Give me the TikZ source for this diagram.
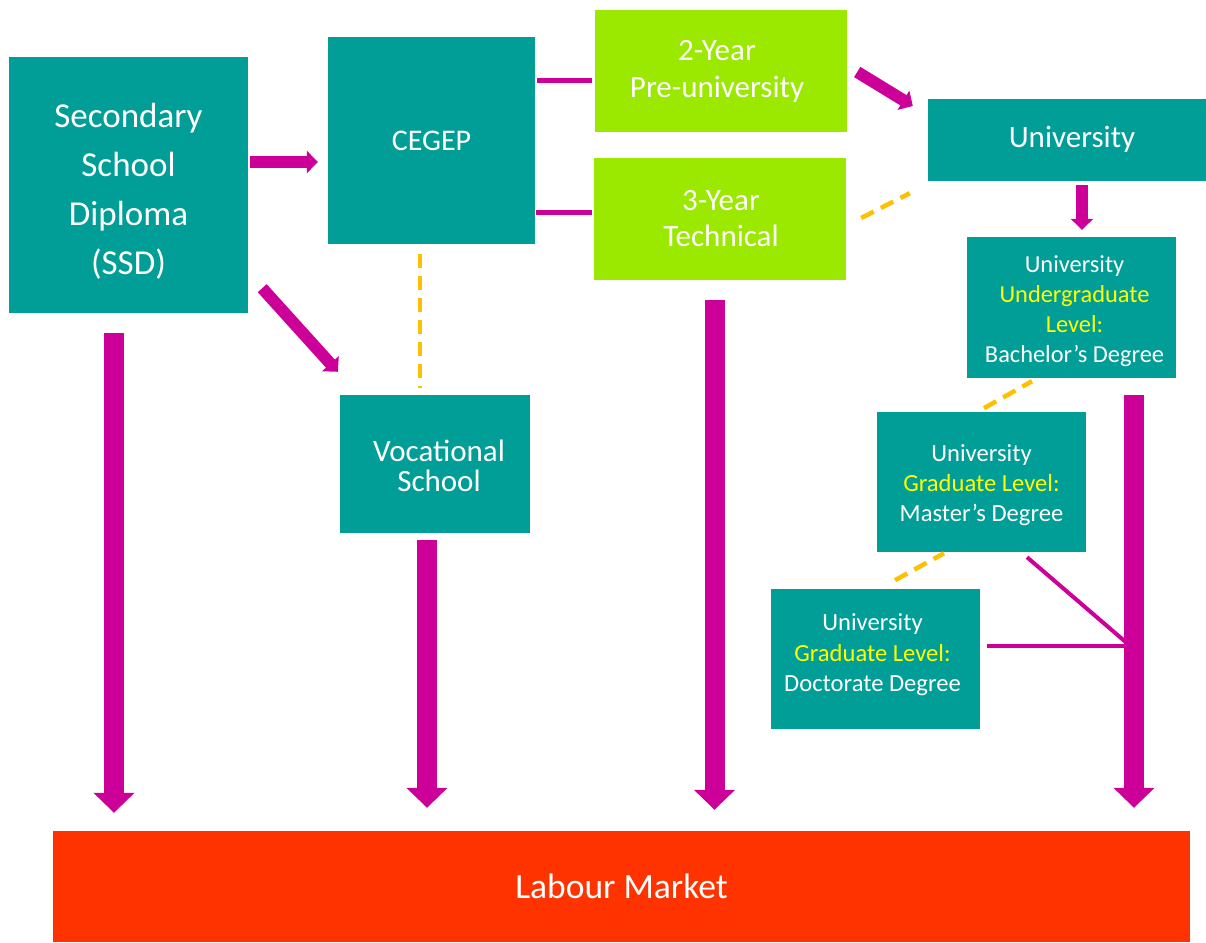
\documentclass[tikz,border=0pt]{standalone}
\usepackage{fontspec}
\setmainfont{Carlito}
\usetikzlibrary{arrows.meta}
\definecolor{teal}{RGB}{0,158,150}
\definecolor{lime}{RGB}{155,232,0}
\definecolor{labred}{RGB}{255,51,0}
\definecolor{mag}{RGB}{204,0,153}
\definecolor{orng}{RGB}{255,192,0}
\definecolor{yel}{RGB}{255,255,0}
\tikzset{
  box/.style={fill=teal, draw=none, inner sep=0pt},
  limebox/.style={fill=lime, draw=none, inner sep=0pt},
  txt/.style={inner sep=0pt, text=white, align=center},
  downarr/.style={mag, line width=20pt, -{Triangle[length=20pt 0 0, width=40pt 0 0]}},
  smallarr/.style={mag, line width=12pt, -{Triangle[length=11pt 0 0, width=22pt 0 0]}},
  link/.style={mag, line width=5pt},
  thinlink/.style={mag, line width=4pt},
  dashlink/.style={orng, line width=4.5pt, dash pattern=on 14pt off 8pt},
}
\begin{document}
\begin{tikzpicture}[x=1pt, y=-1pt]
\useasboundingbox[fill=white] (0,0) rectangle (1206,942);
% boxes
\node[box, minimum width=239pt, minimum height=256pt] (ssd) at (128.5,185) {};
\node[box, minimum width=207pt, minimum height=207pt] (cegep) at (431.5,140.5) {};
\node[limebox, minimum width=252pt, minimum height=122pt] (pre) at (721,71) {};
\node[limebox, minimum width=252pt, minimum height=122pt] (tech) at (720,219) {};
\node[box, minimum width=278pt, minimum height=82pt] (uni) at (1067,140) {};
\node[box, minimum width=209pt, minimum height=141pt] (ug) at (1071.5,307.5) {};
\node[box, minimum width=190pt, minimum height=138pt] (voc) at (435,464) {};
\node[box, minimum width=209pt, minimum height=140pt] (ms) at (981.5,482) {};
\node[box, minimum width=209pt, minimum height=140pt] (dr) at (875.5,659) {};
\node[fill=labred, inner sep=0pt, minimum width=1137pt, minimum height=111pt] (lab) at (621.5,886.5) {};
% texts
\node[txt, font=\fontsize{35}{49}\selectfont] (ssdt) at ([shift={(0,6)}]ssd.center) {Secondary\\School\\Diploma\\(SSD)};
\node[txt, font=\fontsize{30}{34}\selectfont] (cegept) at (cegep.center) {CEGEP};
\node[txt, font=\fontsize{31}{37}\selectfont] (pret) at ([shift={(-4,0)}]pre.center) {2-Year\\Pre-university};
\node[txt, font=\fontsize{31}{36}\selectfont] (techt) at ([shift={(1,0)}]tech.center) {3-Year\\Technical};
\node[txt, font=\fontsize{31}{34}\selectfont] (unit) at ([shift={(5,-1)}]uni.center) {University};
\node[txt, font=\fontsize{24.4}{30}\selectfont] (ugt) at ([shift={(3,3.5)}]ug.center) {University\\\textcolor{yel}{Undergraduate}\\\textcolor{yel}{Level:}\\Bachelor’s Degree};
\node[txt, font=\fontsize{31}{30}\selectfont] (voct) at ([shift={(4,2)}]voc.center) {Vocational\\School};
\node[txt, font=\fontsize{24.6}{30}\selectfont] (mst) at ([shift={(0,3)}]ms.center) {University\\\textcolor{yel}{Graduate Level:}\\Master’s Degree};
\node[txt, font=\fontsize{24.6}{30.5}\selectfont] (drt) at ([shift={(-3,-4)}]dr.center) {University\\\textcolor{yel}{Graduate Level:}\\Doctorate Degree};
\node[txt, font=\fontsize{35.5}{40}\selectfont] (labt) at (lab.center) {Labour Market};
% helper coordinates
\coordinate (s1) at ([xshift=-14.5pt]ssd.south);
\coordinate (v1) at ([xshift=-8pt]voc.south);
\coordinate (t1) at ([xshift=-5.5pt]tech.south);
\coordinate (u1) at ([xshift=62.5pt]ug.south);
\coordinate (join) at (1128,644);
\coordinate (join2) at (1128,646);
% down arrows to labour market
\draw[downarr, shorten <=20pt, shorten >=18pt] (s1) -- (s1 |- lab.north);
\draw[downarr, shorten <=7pt, shorten >=23pt] (v1) -- (v1 |- lab.north);
\draw[downarr, shorten <=20pt, shorten >=21pt] (t1) -- (t1 |- lab.north);
\draw[downarr, shorten <=17pt, shorten >=23pt] (u1) -- (u1 |- lab.north);
% small arrows
\draw[smallarr] ([xshift=2pt,yshift=23pt]ssd.east) -- ([xshift=-10pt,yshift=-21.5pt]cegep.west);
\draw[smallarr] ([xshift=14pt,yshift=25pt]ssd.south east) -- ([xshift=-2pt,yshift=23pt]voc.north west);
\draw[smallarr] ([xshift=10pt,yshift=-1pt]pre.east) -- ([xshift=-15pt,yshift=34pt]uni.west);
\draw[smallarr] ([xshift=15pt,yshift=-4pt]uni.south) -- ([xshift=10.5pt,yshift=7pt]ug.north);
% magenta links
\draw[link] ([xshift=2pt,yshift=60.5pt]cegep.east) -- ([xshift=-3pt,yshift=-9pt]pre.west);
\draw[link] ([xshift=1pt,yshift=-71.5pt]cegep.east) -- ([xshift=-2pt,yshift=7pt]tech.west);
\draw[thinlink] ([xshift=45.5pt,yshift=-5pt]ms.south) -- (join);
\draw[thinlink] ([xshift=7pt,yshift=13pt]dr.east) -- (join2);
% dashed links
\draw[dashlink] ([xshift=-11.5pt,yshift=-10pt]cegep.south) -- ([xshift=-15pt,yshift=7pt]voc.north);
\draw[dashlink] ([xshift=15pt,yshift=1pt]tech.east) -- ([xshift=-18pt,yshift=-12pt]uni.south west);
\draw[dashlink] ([xshift=-87.5pt,yshift=-30pt]ug.south) -- ([xshift=-39.5pt,yshift=-3pt]ug.south);
\draw[dashlink] ([xshift=-86.5pt,yshift=-28pt]ms.south) -- ([xshift=-37.5pt,yshift=-1pt]ms.south);
\end{tikzpicture}
\end{document}
